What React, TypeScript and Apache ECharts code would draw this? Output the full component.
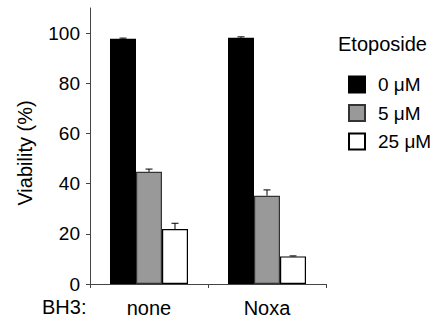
import React, { useEffect, useRef } from "react";
import * as echarts from "echarts";

const categories = ["none", "Noxa"];
const seriesNames = ["0 \u03bcM", "5 \u03bcM", "25 \u03bcM"];
const values0 = [97.7, 98.1];
const values5 = [44.7, 35.2];
const values25 = [21.9, 11.0];
const err0 = [0.3, 0.4];
const err5 = [1.1, 2.3];
const err25 = [2.3, 0.2];
const yTicks = [0, 20, 40, 60, 80, 100];

const FONT = "'Liberation Sans', Arial, Helvetica, sans-serif";
const BAR_W = 26;
const fills = ["#000000", "#999999", "#ffffff"];
const borders = ["#000000", "#333333", "#000000"];

export default function App() {
  const ref = useRef<HTMLDivElement>(null);
  useEffect(() => {
    document.body.style.margin = "0";
    if (!ref.current) return;
    const chart = echarts.init(ref.current, null, { renderer: "svg" });
    const vals = [values0, values5, values25];
    const errs = [err0, err5, err25];
    const barSeries = vals.map((v, i) => ({
      name: seriesNames[i],
      type: "bar",
      data: v,
      barWidth: BAR_W,
      barGap: "0%",
      itemStyle: { color: fills[i], borderColor: borders[i], borderWidth: 1.2 },
      z: 2,
    }));
    const errSeries = vals.map((v, i) => ({
      type: "custom",
      name: "err" + i,
      data: v.map((val, j) => [j, val, errs[i][j]]),
      z: 3,
      renderItem: (params: any, api: any) => {
        const c = api.value(0);
        const val = api.value(1);
        const e = api.value(2);
        const p0 = api.coord([c, val]);
        const p1 = api.coord([c, val + e]);
        const x = p0[0] + (i - 1) * BAR_W;
        return {
          type: "group",
          children: [
            { type: "line", shape: { x1: x, y1: p0[1], x2: x, y2: p1[1] }, style: { stroke: "#000", lineWidth: 1 } },
            { type: "line", shape: { x1: x - 3.5, y1: p1[1], x2: x + 3.5, y2: p1[1] }, style: { stroke: "#000", lineWidth: 1 } },
          ],
        };
      },
    }));
    chart.setOption({
      animation: false,
      textStyle: { fontFamily: FONT },
      grid: { left: 90, right: 114, top: 8, bottom: 42 },
      xAxis: {
        type: "category",
        data: categories,
        boundaryGap: true,
        axisLine: { lineStyle: { color: "#444", width: 1 } },
        axisTick: { show: true, length: 4, lineStyle: { color: "#444" } },
        axisLabel: { fontSize: 20, color: "#000", margin: 14, fontFamily: FONT },
      },
      yAxis: {
        type: "value",
        min: 0,
        max: 110,
        interval: 20,
        splitLine: { show: false },
        axisLine: { show: true, lineStyle: { color: "#444", width: 1 } },
        axisTick: { show: true, length: 4, customValues: yTicks, lineStyle: { color: "#444" } },
        axisLabel: { fontSize: 19, color: "#000", margin: 10, customValues: yTicks, fontFamily: FONT },
      },
      legend: {
        data: seriesNames,
        orient: "vertical",
        left: 343,
        top: 70,
        icon: "rect",
        itemWidth: 16,
        itemHeight: 16,
        itemGap: 9.5,
        textStyle: { fontSize: 19, color: "#000", fontFamily: FONT, padding: [0, 0, 0, 8] },
      },
      graphic: [
        {
          type: "text",
          left: 338,
          top: 34,
          style: { text: "Etoposide", font: `20px ${FONT}`, fill: "#000" },
        },
        {
          type: "text",
          x: 25,
          y: 153,
          rotation: Math.PI / 2,
          style: { text: "Viability (%)", font: `20px ${FONT}`, fill: "#000", align: "center", verticalAlign: "middle" },
        },
        {
          type: "text",
          left: 42,
          top: 297,
          style: { text: "BH3:", font: `20px ${FONT}`, fill: "#000" },
        },
      ],
      series: [...barSeries, ...errSeries],
    });
    return () => chart.dispose();
  }, []);
  return <div ref={ref} style={{ width: 440, height: 326 }} />;
}
